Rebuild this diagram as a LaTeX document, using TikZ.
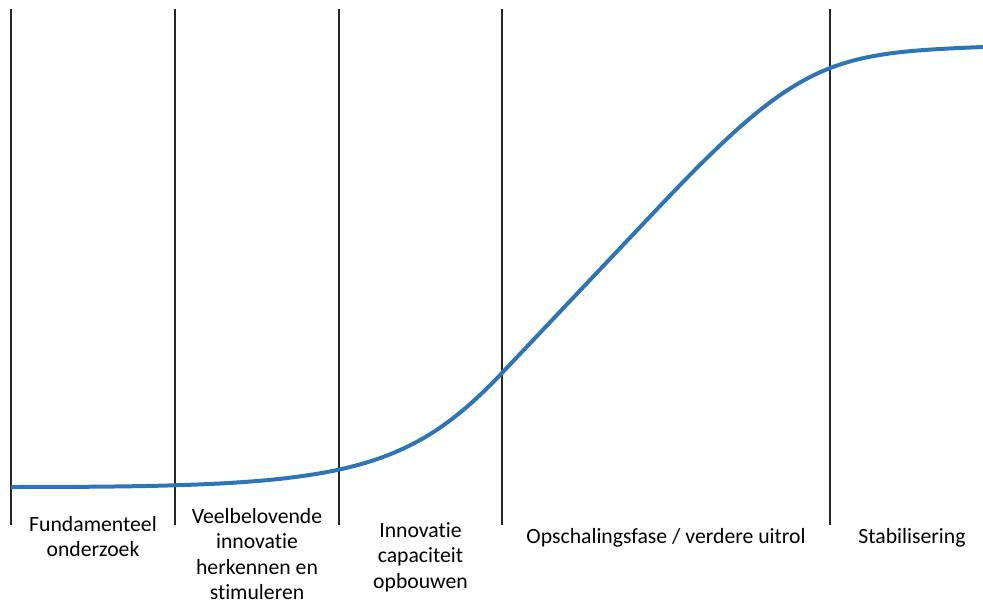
\documentclass[tikz,border=0pt]{standalone}
\usepackage{fontspec}
\setmainfont{Carlito}[Ligatures=NoCommon]
\usetikzlibrary{positioning}
\definecolor{curveblue}{RGB}{46,117,182}

\begin{document}
\begin{tikzpicture}[x=1pt,y=-1pt,
	divider/.style={draw=black!85,line width=1.3pt},
	scurve/.style={draw=curveblue,line width=4pt},
	phase/.style={anchor=base,align=center,inner sep=0pt,font=\fontsize{21.7}{25.5}\selectfont}]
	\useasboundingbox (0,0) rectangle (983,604);
	% fase grenzen
	\foreach \x/\n in {11/a,175/b,339/c,502/d,830/e}{
		\coordinate (top\n) at (\x,9);
		\coordinate (bot\n) at (\x,525);
		\draw[divider] (top\n) -- (bot\n);
	}
	\coordinate (start) at (11,487);
	\coordinate (bend1) at (502,373);
	\coordinate (bend2) at (660,206);
	\coordinate (eind) at (983,47);
	\draw[scurve] (start) .. controls (331,487) and (402,478.6) .. (bend1) -- (bend2)
		.. controls (800,58.2) and (833,53) .. (eind);
	% labels (base = laatste regel)
	\node[phase] (fund) at (93,556.5) {Fundamenteel\\onderzoek};
	\node[phase] (veel) at (257,599.5) {Veelbelovende\\innovatie\\herkennen en\\stimuleren};
	\node[phase] (inno) at (420.5,588) {Innovatie\\capaciteit\\opbouwen};
	\node[phase] (opsc) at (666,543) {Opschalingsfase / verdere uitrol};
	\node[phase] (stab) at (912,543) {Stabilisering};
\end{tikzpicture}
\end{document}
